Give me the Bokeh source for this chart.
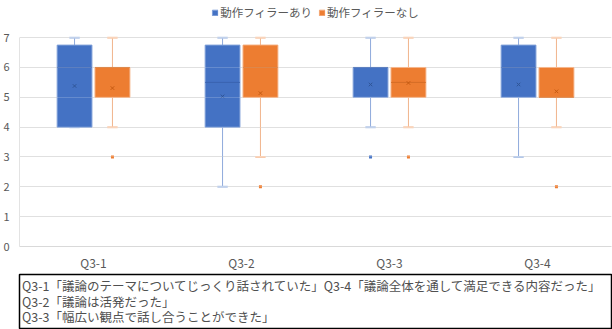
import numpy as np
from bokeh.plotting import figure
from bokeh.models import ColumnDataSource, FixedTicker, Grid, Range1d
from bokeh.layouts import column
from bokeh.embed import file_html
from bokeh.resources import INLINE
from bokeh.core.properties import value

FONT = "Noto Sans CJK JP"

categories = ["Q3-1", "Q3-2", "Q3-3", "Q3-4"]
series_names = ["動作フィラーあり", "動作フィラーなし"]
y_ticks = [0, 1, 2, 3, 4, 5, 6, 7]

# 動作フィラーあり
ari_min = [4, 2, 4, 3]
ari_q1 = [4, 4, 5, 5]
ari_median = [6, 5.5, 6, 6]
ari_q3 = [6.75, 6.75, 6, 6.75]
ari_max = [7, 7, 7, 7]
ari_mean = [5.38, 5.03, 5.43, 5.43]
ari_outlier_cat = ["Q3-3"]
ari_outlier_val = [3]

# 動作フィラーなし
nashi_min = [4, 3, 4, 4]
nashi_q1 = [5, 5, 5, 5]
nashi_median = [6, 6, 5.5, 5]
nashi_q3 = [6, 6.75, 6, 6]
nashi_max = [7, 7, 7, 7]
nashi_mean = [5.31, 5.14, 5.48, 5.2]
nashi_outlier_cat = ["Q3-1", "Q3-2", "Q3-3", "Q3-4"]
nashi_outlier_val = [3, 2, 3, 2]

note_lines = [
    "Q3-1「議論のテーマについてじっくり話されていた」Q3-4「議論全体を通して満足できる内容だった」",
    "Q3-2「議論は活発だった」",
    "Q3-3「幅広い観点で話し合うことができた」",
]

BOX_W = 0.235
OFFSET = 0.128
CAP_HALF = 0.035

p = figure(width=612, height=273, x_range=Range1d(0.5, 4.5), y_range=Range1d(0, 8.245),
           output_backend="svg", toolbar_location=None,
           min_border_left=17, min_border_right=0, min_border_top=0, min_border_bottom=26,
           outline_line_color=None)

p.ygrid.ticker = FixedTicker(ticks=y_ticks)
p.ygrid.grid_line_color = "#d9d9d9"
p.xgrid.visible = False

p.yaxis.ticker = FixedTicker(ticks=y_ticks)
p.yaxis.bounds = (0, 7)
p.yaxis.axis_line_color = "#e3e3e3"
p.yaxis.major_tick_line_color = None
p.yaxis.minor_tick_line_color = None
p.yaxis.major_label_standoff = 4
p.yaxis.major_label_text_font = FONT
p.yaxis.major_label_text_font_size = "11px"
p.yaxis.major_label_text_color = "#595959"

p.xaxis.ticker = FixedTicker(ticks=[1, 2, 3, 4])
p.xaxis.major_label_overrides = {i + 1: c for i, c in enumerate(categories)}
p.xaxis.axis_line_color = "#d9d9d9"
p.xaxis.major_tick_line_color = None
p.xaxis.minor_tick_line_color = None
p.xaxis.major_label_standoff = 1
p.xaxis.major_label_text_font = FONT
p.xaxis.major_label_text_font_size = "12px"
p.xaxis.major_label_text_color = "#595959"

series = [
    dict(name=series_names[0], off=-OFFSET, mn=ari_min, q1=ari_q1, med=ari_median, q3=ari_q3,
         mx=ari_max, mean=ari_mean, oc=ari_outlier_cat, ov=ari_outlier_val,
         fill="#4472C4", edge="#7f9fd8", whisk="#8faadc", cap="#b4c7e7", medc="#3a63b0",
         meanc="#2f5597"),
    dict(name=series_names[1], off=OFFSET, mn=nashi_min, q1=nashi_q1, med=nashi_median, q3=nashi_q3,
         mx=nashi_max, mean=nashi_mean, oc=nashi_outlier_cat, ov=nashi_outlier_val,
         fill="#ED7D31", edge="#f3a673", whisk="#f1b48c", cap="#f8cbad", medc="#d56d25",
         meanc="#c55a11"),
]

base_x = np.arange(1, len(categories) + 1)

for s in series:
    x = base_x + s["off"]
    src = ColumnDataSource(dict(
        x=x, x0=x - CAP_HALF, x1=x + CAP_HALF, xm0=x - BOX_W / 2, xm1=x + BOX_W / 2,
        mn=s["mn"], q1=s["q1"], med=s["med"], q3=s["q3"], mx=s["mx"], mean=s["mean"]))
    # whiskers
    p.segment(x0="x", y0="q3", x1="x", y1="mx", source=src, line_color=s["whisk"], line_width=1)
    p.segment(x0="x", y0="q1", x1="x", y1="mn", source=src, line_color=s["whisk"], line_width=1)
    # caps
    p.segment(x0="x0", y0="mx", x1="x1", y1="mx", source=src, line_color=s["cap"], line_width=2)
    p.segment(x0="x0", y0="mn", x1="x1", y1="mn", source=src, line_color=s["cap"], line_width=2)
    # boxes
    p.vbar(x="x", width=BOX_W, bottom="q1", top="q3", source=src, fill_color=s["fill"],
           line_color=s["edge"], line_width=1, legend_label=s["name"])
    # medians
    p.segment(x0="xm0", y0="med", x1="xm1", y1="med", source=src, line_color=s["medc"], line_width=1)
    # means
    p.scatter(x="x", y="mean", source=src, marker="x", size=5, line_color=s["meanc"], line_width=1)
    # outliers
    ox = [categories.index(c) + 1 + s["off"] for c in s["oc"]]
    p.scatter(x=ox, y=s["ov"], marker="square", size=3, fill_color=s["fill"], line_color=None)

# faint grid lines showing through the boxes
p.add_layout(Grid(dimension=1, ticker=FixedTicker(ticks=y_ticks), grid_line_color="white",
                  grid_line_alpha=0.18, level="guide"))

leg = p.legend[0]
leg.location = "top_center"
leg.orientation = "horizontal"
leg.label_text_font = FONT
leg.label_text_font_size = "11.5px"
leg.label_text_color = "#595959"
leg.glyph_width = 7
leg.glyph_height = 7
leg.label_standoff = 2
leg.spacing = 6
leg.padding = 0
leg.margin = 4
leg.background_fill_alpha = 0
leg.border_line_color = None

p2 = figure(width=612, height=56, x_range=Range1d(0, 592), y_range=Range1d(0, 54),
            output_backend="svg", toolbar_location=None,
            min_border_left=19, min_border_right=1, min_border_top=1, min_border_bottom=1,
            outline_line_color="black", outline_line_width=1.5)
p2.axis.visible = False
p2.grid.visible = False
p2.text(x=[2.5, 2.5, 2.5], y=[43, 27.5, 12], text=note_lines, text_font=value(FONT),
        text_font_size="12.5px", text_color="#505050", text_baseline="middle", text_align="left")

layout = column(p, p2, spacing=0)
open("out.html", "w").write(file_html(layout, INLINE))
